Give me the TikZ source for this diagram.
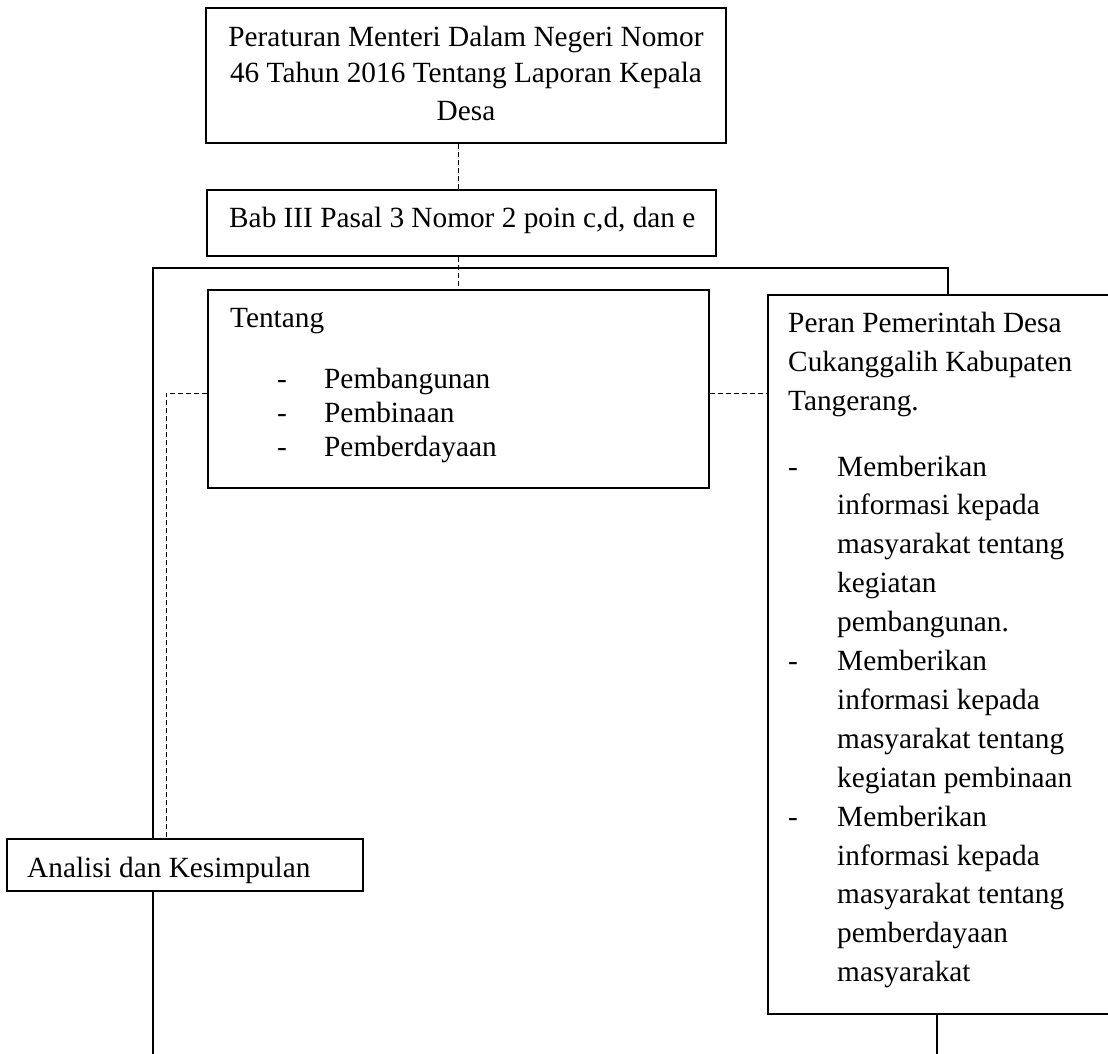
\documentclass[tikz,border=0pt]{standalone}
\usepackage{fontspec}
\setmainfont{Liberation Serif}
\begin{document}
\begin{tikzpicture}[x=1pt,y=-1pt,
  box/.style={draw,line width=1.2pt,fill=white,inner sep=0pt},
  dashline/.style={line width=1pt,dash pattern=on 5pt off 3pt},
  solidline/.style={line width=1.2pt},
  txt/.style={anchor=base west,inner sep=0pt,font=\fontsize{29.3}{35}\selectfont},
  ctxt/.style={anchor=base,inner sep=0pt,font=\fontsize{29.3}{35}\selectfont}]
\useasboundingbox (0,0) rectangle (1108,1054);
\clip (0,0) rectangle (1108,1054);
% boxes
\node[box,minimum width=520pt,minimum height=135pt] (top) at (466,75.5) {};
\node[box,minimum width=509pt,minimum height=66pt] (bab) at (461.5,223) {};
\node[box,minimum width=501pt,minimum height=198pt] (tentang) at (458.5,389) {};
\node[box,minimum width=362pt,minimum height=719pt] (peran) at (949,654.5) {};
\node[box,minimum width=356pt,minimum height=52pt] (analisi) at (185,865) {};
% helper coordinates
\coordinate (dx) at (458,0);
\coordinate (fr) at (948,268);
\coordinate (fl) at (153,268);
\coordinate (bl) at (153,1070);
\coordinate (dl) at (166,393);
\coordinate (br) at (937,1070);
% connectors
\draw[dashline] (top.south -| dx) -- (bab.north -| dx);
\draw[dashline] (bab.south -| dx) -- (tentang.north -| dx);
\draw[solidline] (peran.north -| fr) -- (fr) -- (fl) -- (analisi.north -| fl);
\draw[solidline] (analisi.south -| fl) -- (bl);
\draw[dashline] (tentang.west |- dl) -- (dl) -- (dl |- analisi.north);
\draw[dashline] (tentang.east |- dl) -- (peran.west |- dl);
\draw[solidline] (peran.south -| br) -- (br);
% texts: top box
\node[ctxt] (t1) at (466,46.5) {Peraturan Menteri Dalam Negeri Nomor};
\node[ctxt] (t2) at (466,83) {46 Tahun 2016 Tentang Laporan Kepala};
\node[ctxt] (t3) at (466,121) {Desa};
% bab
\node[txt] (b1) at (229,227) {Bab III Pasal 3 Nomor 2 poin c,d, dan e};
% tentang
\node[txt] (n0) at (230,327) {Tentang};
\foreach \t [count=\i from 0] in {Pembangunan,Pembinaan,Pemberdayaan}{
  \node[txt] (nd\i) at (277,{388+34*\i}) {-};
  \node[txt] (n\i t) at (324,{388+34*\i}) {\t};
}
% peran
\node[txt] (p1) at (788,332) {Peran Pemerintah Desa};
\node[txt] (p2) at (788,371) {Cukanggalih Kabupaten};
\node[txt] (p3) at (788,410) {Tangerang.};
\foreach \t [count=\i from 0] in {Memberikan,informasi kepada,masyarakat tentang,kegiatan,pembangunan.,Memberikan,informasi kepada,masyarakat tentang,kegiatan pembinaan,Memberikan,informasi kepada,masyarakat tentang,pemberdayaan,masyarakat}{
  \node[txt] (r\i) at (837,{476+38.9*\i}) {\t};
}
\foreach \i in {0,5,9}{
  \node[txt] (rd\i) at (788,{476+38.9*\i}) {-};
}
% analisi
\node[txt] (a1) at (27,877) {Analisi dan Kesimpulan};
\end{tikzpicture}
\end{document}
